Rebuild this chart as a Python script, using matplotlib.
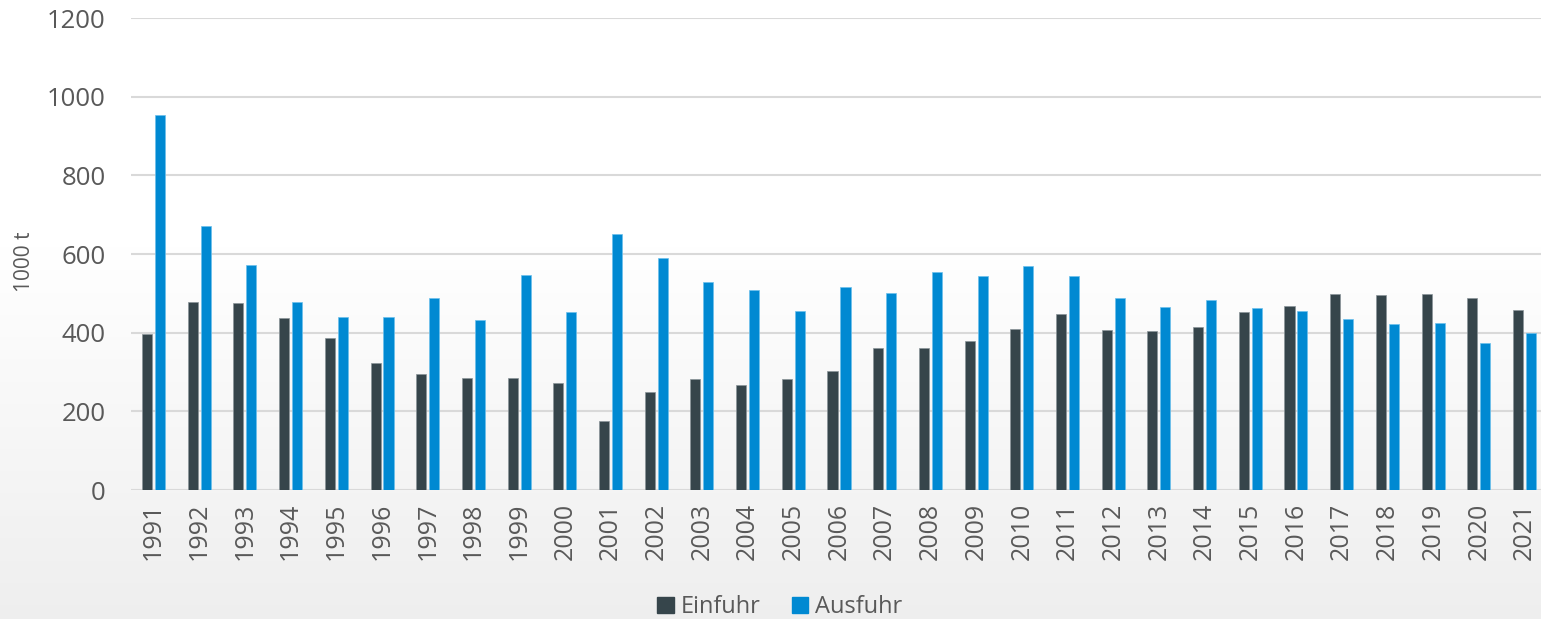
import numpy as np
import matplotlib.pyplot as plt
from matplotlib.patches import Patch

plt.rcParams['font.family'] = ['Open Sans', 'DejaVu Sans']

years = [str(y) for y in range(1991, 2022)]
einfuhr = [396, 478, 475, 438, 386, 324, 294, 284, 285, 273,
           175, 248, 283, 268, 283, 302, 362, 361, 380, 409,
           447, 406, 403, 414, 452, 469, 498, 496, 498, 489, 457]
ausfuhr = [954, 672, 573, 477, 440, 440, 489, 433, 547, 452,
           652, 591, 530, 509, 455, 515, 502, 553, 545, 569,
           543, 487, 464, 482, 462, 454, 435, 422, 424, 374, 398]

c_ein = '#36454B'
c_aus = '#0089D2'
txt = '#595959'

fig = plt.figure(figsize=(15.41, 6.19), dpi=100)

# background gradient, white on top, light grey at the bottom
bg = fig.add_axes([0, 0, 1, 1], zorder=-10)
h = np.linspace(0, 1, 300)
shade = np.clip((h - 0.4) / 0.6, 0, 1)
col = 1.0 - 0.065 * shade
img = col[:, None, None].repeat(2, axis=1).repeat(3, axis=2)
bg.imshow(img, aspect='auto', extent=[0, 1, 1, 0])
bg.set_axis_off()

ax = fig.add_axes([0.0848, 0.2084, 0.9193, 0.7625])
ax.set_facecolor('none')

x = np.arange(len(years))
w = 0.22
off = 0.142
ax.bar(x - off, einfuhr, w, color=c_ein, edgecolor='#8a9499', linewidth=0.5, zorder=3, label='Einfuhr')
ax.bar(x + off, ausfuhr, w, color=c_aus, edgecolor='#6cc0ec', linewidth=0.5, zorder=3, label='Ausfuhr')

ax.set_xlim(-0.5, len(years) - 0.5)
ax.set_ylim(0, 1200)
ax.set_yticks(range(0, 1201, 200))
ax.set_xticks(x)
ax.set_xticklabels(years, rotation=90)
ax.grid(axis='y', color='#D9D9D9', linewidth=1.5, zorder=0)
for s in ax.spines.values():
    s.set_visible(False)
ax.tick_params(length=0, labelsize=18, colors=txt)
ax.tick_params(axis='y', labelsize=18.5, pad=18)
ax.tick_params(axis='x', pad=9)

fig.text(25 / 1541, 1 - 262 / 619, '1000 t', rotation=90, fontsize=15, color=txt,
         ha='center', va='center')

handles = [Patch(color=c_ein), Patch(color=c_aus)]
fig.legend(handles, ['Einfuhr', 'Ausfuhr'], loc='center', bbox_to_anchor=(780 / 1541, 0.019),
           ncol=2, frameon=False, fontsize=17, labelcolor=txt,
           handlelength=0.7, handleheight=0.7, handletextpad=0.3, columnspacing=1.3)

fig.savefig('out.png', dpi=100)
